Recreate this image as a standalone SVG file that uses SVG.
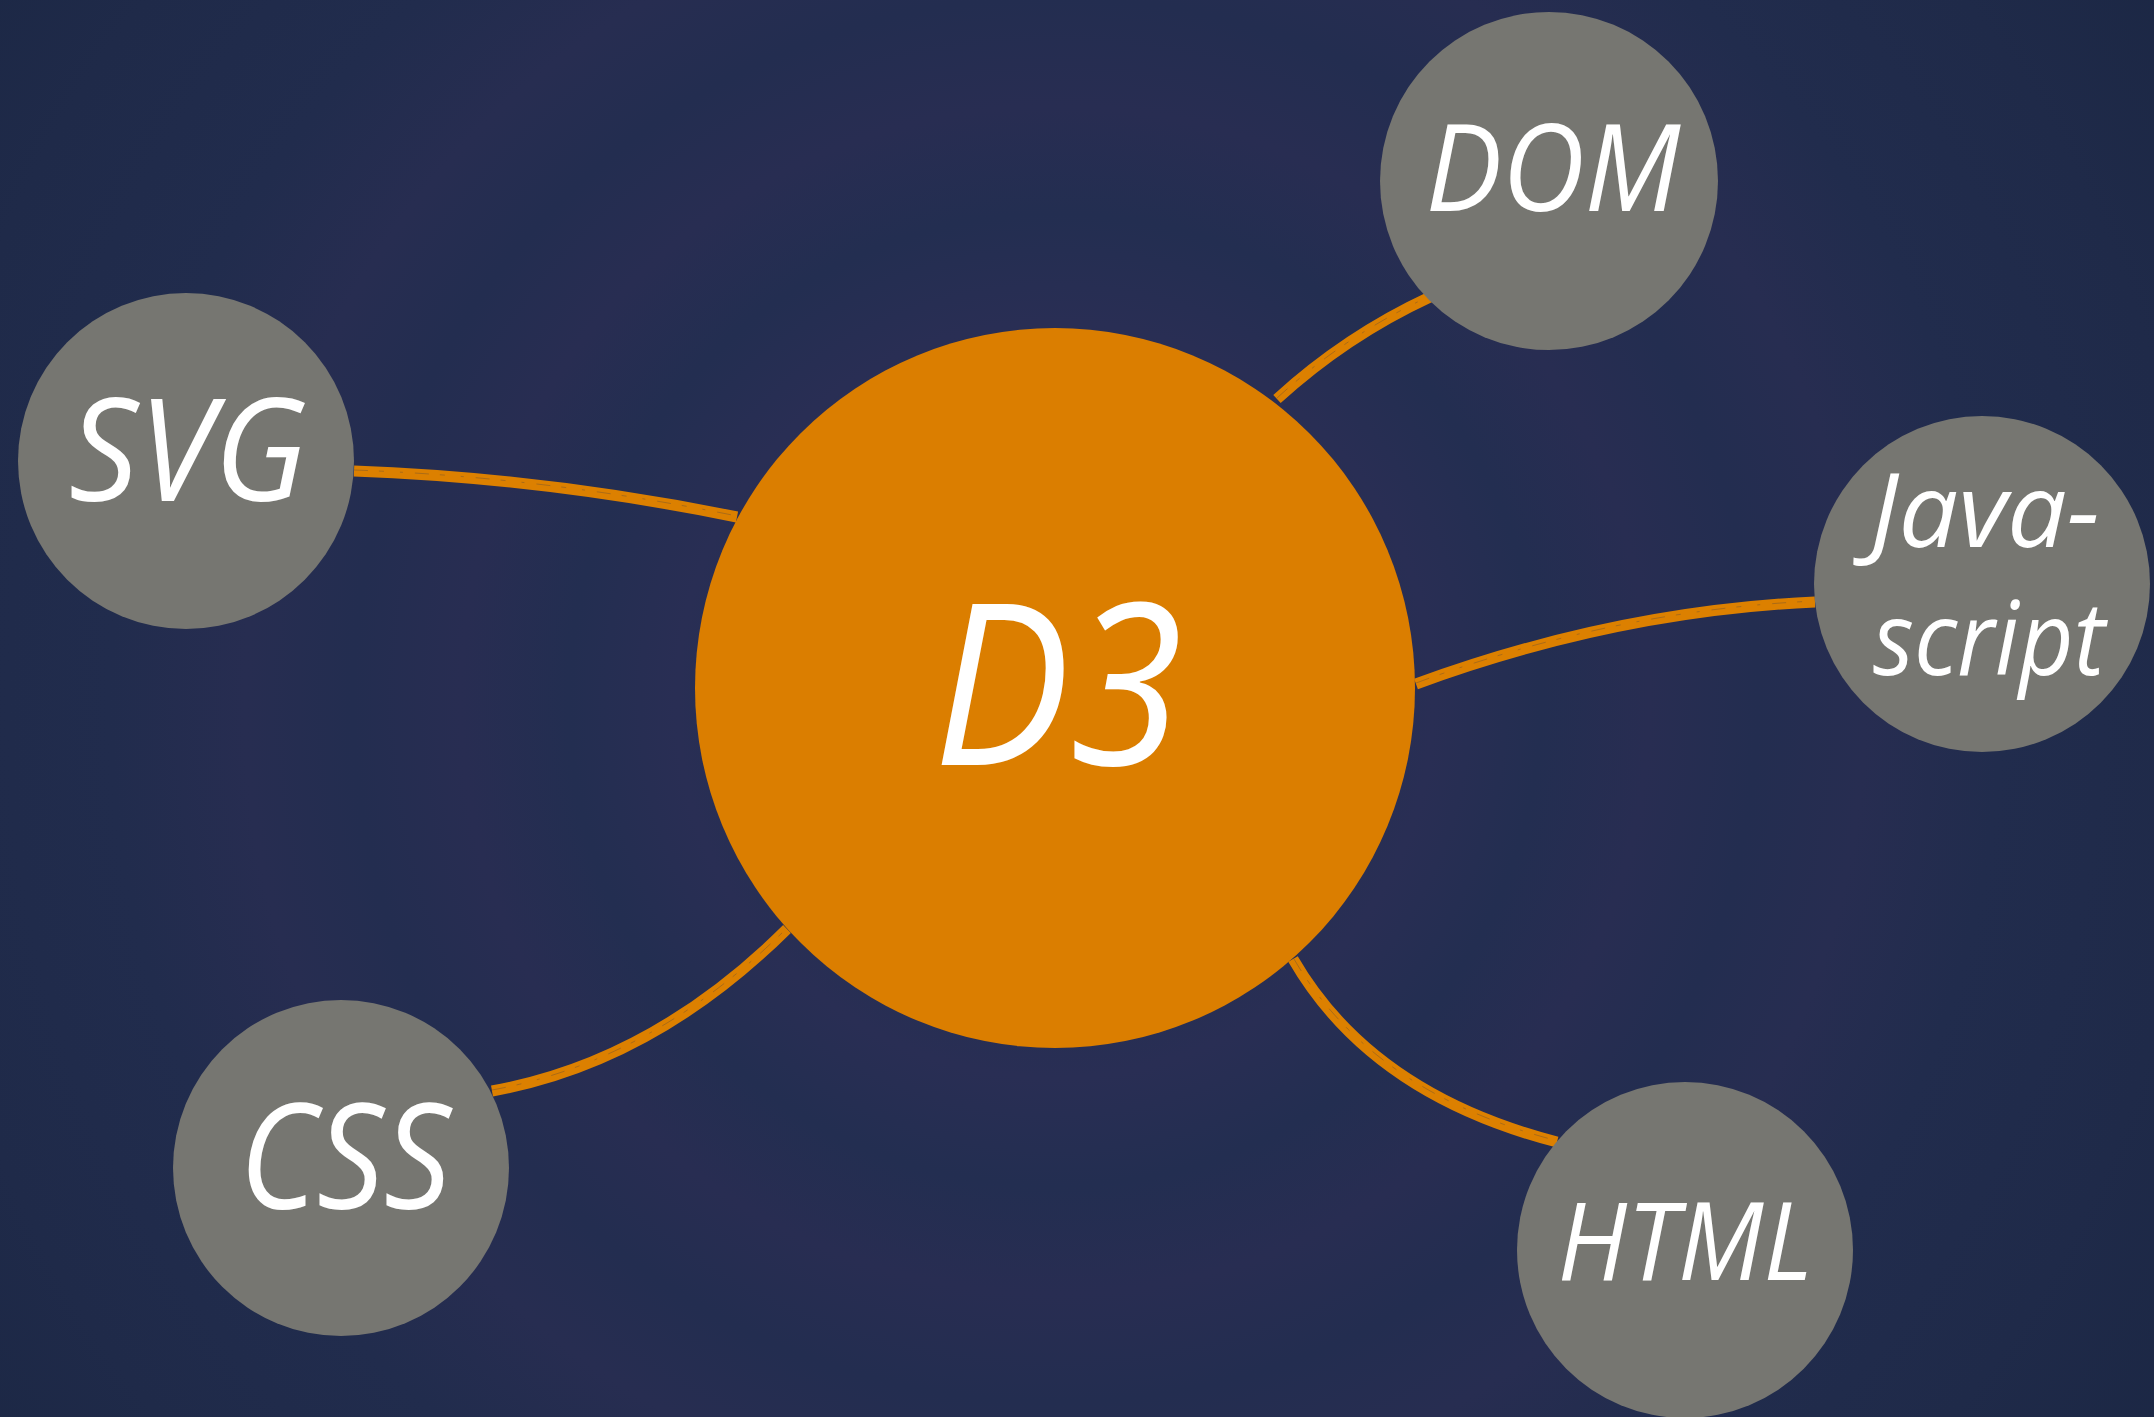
<svg xmlns="http://www.w3.org/2000/svg" width="2154" height="1417" viewBox="0 0 2154 1417">
<defs>
<radialGradient id="bg" cx="1055" cy="700" r="1350" gradientUnits="userSpaceOnUse">
<stop offset="0" stop-color="#262f55"/>
<stop offset="0.12" stop-color="#282e54"/>
<stop offset="0.2" stop-color="#242f52"/>
<stop offset="0.28" stop-color="#292e54"/>
<stop offset="0.36" stop-color="#232e51"/>
<stop offset="0.44" stop-color="#282d52"/>
<stop offset="0.52" stop-color="#232d50"/>
<stop offset="0.6" stop-color="#272d51"/>
<stop offset="0.7" stop-color="#212c4d"/>
<stop offset="0.85" stop-color="#1f2a49"/>
<stop offset="1" stop-color="#1b2744"/>
</radialGradient>
<style>
.node{fill:#767671}
.hub{fill:#db7e00}
.lbl{font-family:"Open Sans","Noto Sans",sans-serif;font-style:italic;fill:#ffffff;text-anchor:middle}
.brush{fill:none;stroke:#dc8000;stroke-width:11;stroke-linecap:butt}
.grain{fill:none;stroke:#3a3a48;stroke-opacity:0.3;stroke-width:1;stroke-dasharray:14 11 5 16 3 12}
</style>
</defs>
<rect x="0" y="0" width="2154" height="1417" fill="url(#bg)"/>
<g id="connectors">
<path class="brush" d="M354 471 Q545 478 737 517"/>
<path class="grain" d="M354 470 Q545 477 737 516"/>
<path class="brush" d="M1277 399 Q1346 336 1430 297"/>
<path class="grain" d="M1277 398 Q1346 335 1430 296"/>
<path class="brush" d="M1416 684 Q1615 611 1815 602"/>
<path class="grain" d="M1416 683 Q1615 610 1815 601"/>
<path class="brush" d="M492 1091 Q653 1062 787 929"/>
<path class="grain" d="M492 1090 Q653 1061 787 928"/>
<path class="brush" d="M1293 959 Q1371 1094 1557 1142"/>
<path class="grain" d="M1294 959 Q1372 1093 1558 1141"/>
</g>
<g id="node-d3">
<circle class="hub" cx="1055" cy="688" r="360"/>
<text class="lbl" x="1058" y="765" font-size="225" textLength="250" lengthAdjust="spacingAndGlyphs">D3</text>
</g>
<g id="node-dom">
<circle class="node" cx="1549" cy="181" r="169"/>
<text class="lbl" x="1553" y="211" font-size="121" textLength="255" lengthAdjust="spacingAndGlyphs">DOM</text>
</g>
<g id="node-svg">
<circle class="node" cx="186" cy="461" r="168"/>
<text class="lbl" x="188" y="501" font-size="143" textLength="238" lengthAdjust="spacingAndGlyphs">SVG</text>
</g>
<g id="node-javascript">
<circle class="node" cx="1982" cy="584" r="168"/>
<text class="lbl" x="1985" y="547" font-size="102" textLength="230" lengthAdjust="spacingAndGlyphs">Java-</text>
<text class="lbl" x="1989" y="675" font-size="102" textLength="232" lengthAdjust="spacingAndGlyphs">script</text>
</g>
<g id="node-css">
<circle class="node" cx="341" cy="1168" r="168"/>
<text class="lbl" x="345" y="1209" font-size="146" textLength="212" lengthAdjust="spacingAndGlyphs">CSS</text>
</g>
<g id="node-html">
<circle class="node" cx="1685" cy="1250" r="168"/>
<text class="lbl" x="1685" y="1280" font-size="108" textLength="255" lengthAdjust="spacingAndGlyphs">HTML</text>
</g>
</svg>
